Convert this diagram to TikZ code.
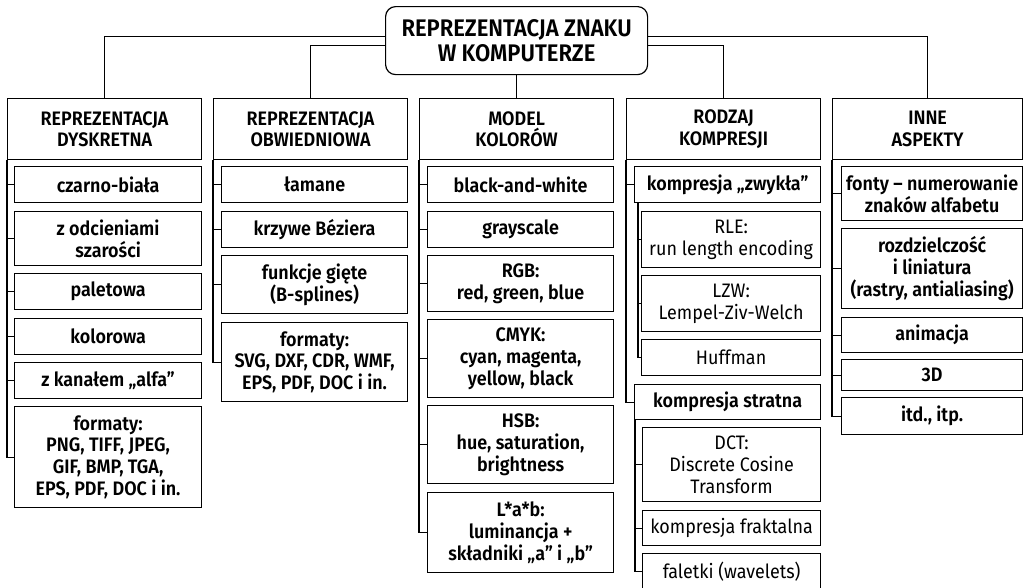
\documentclass[tikz,border=0pt]{standalone}
\usepackage{fontspec}
\setmainfont{Fira Sans}[FakeStretch=0.92, BoldFont={Fira Sans SemiBold}]
\usetikzlibrary{positioning}

\tikzset{
	rootbox/.style={draw, line width=1.2pt, rounded corners=10pt, align=center, inner sep=0pt,
		anchor=north west, minimum width=262pt, minimum height=68pt,
		font=\fontsize{24}{24.5}\selectfont\bfseries},
	headbox/.style={draw, line width=1.2pt, align=center, inner sep=0pt, anchor=north west,
		minimum width=194pt, minimum height=61pt, font=\fontsize{19.5}{21.7}\selectfont\bfseries},
	itembox/.style 2 args={draw, line width=1.2pt, align=center, inner sep=0pt, anchor=north west,
		minimum width=#1, minimum height=#2, font=\fontsize{19.5}{21.7}\selectfont\bfseries},
	subbox/.style 2 args={itembox={#1}{#2}, font=\fontsize{19.5}{21.7}\selectfont},
	link/.style={line width=1.1pt},
}

\begin{document}
\begin{tikzpicture}[x=1pt, y=-1pt]
	\useasboundingbox (0,0) rectangle (1030,587);

	% korzen
	\node[rootbox] (root) at (385,6) {REPREZENTACJA ZNAKU\\W KOMPUTERZE};

	% naglowki kolumn
	\node[headbox] (h1) at (7,98) {REPREZENTACJA\\DYSKRETNA};
	\node[headbox] (h2) at (213,98) {REPREZENTACJA\\OBWIEDNIOWA};
	\node[headbox] (h3) at (419,98) {MODEL\\KOLORÓW};
	\node[headbox] (h4) at (626,98) {RODZAJ\\KOMPRESJI};
	\node[headbox, minimum width=190pt] (h5) at (832,98) {INNE\\ASPEKTY};

	\draw[link] ([yshift=4pt]root.west) -| (h1.north);
	\draw[link] ([yshift=-5pt]root.west) -| (h2.north);
	\draw[link] (root.south) -- (h3.north);
	\draw[link] ([yshift=-5pt]root.east) -| (h4.north);
	\draw[link] ([yshift=4pt]root.east) -| (h5.north);

	% reprezentacja dyskretna
	\node[itembox={187pt}{36pt}] (c1a) at (14,166) {czarno-biała};
	\node[itembox={187pt}{54pt}] (c1b) at (14,211) {z odcieniami\\szarości};
	\node[itembox={187pt}{36pt}] (c1c) at (14,273) {paletowa};
	\node[itembox={187pt}{36pt}] (c1d) at (14,318) {kolorowa};
	\node[itembox={187pt}{36pt}] (c1e) at (14,362) {z kanałem „alfa”};
	\node[itembox={187pt}{101pt}] (c1f) at (14,406) {formaty:\\PNG, TIFF, JPEG,\\GIF, BMP, TGA,\\EPS, PDF, DOC i in.};

	% reprezentacja obwiedniowa
	\node[itembox={186pt}{36pt}] (c2a) at (221,166) {łamane};
	\node[itembox={186pt}{36pt}] (c2b) at (221,211) {krzywe Béziera};
	\node[itembox={186pt}{58pt}] (c2c) at (221,255) {funkcje gięte\\(B-splines)};
	\node[itembox={186pt}{79pt}] (c2d) at (221,322) {formaty:\\SVG, DXF, CDR, WMF,\\EPS, PDF, DOC i in.};

	% model kolorow
	\node[itembox={186pt}{36pt}] (c3a) at (427,166) {black-and-white};
	\node[itembox={186pt}{36pt}] (c3b) at (427,211) {grayscale};
	\node[itembox={186pt}{56pt}] (c3c) at (427,255) {RGB:\\red, green, blue};
	\node[itembox={186pt}{78pt}] (c3d) at (427,319) {CMYK:\\cyan, magenta,\\yellow, black};
	\node[itembox={186pt}{78pt}] (c3e) at (427,405) {HSB:\\hue, saturation,\\brightness};
	\node[itembox={186pt}{80pt}] (c3f) at (427,492) {L*a*b:\\luminancja +\\składniki „a” i „b”};

	% rodzaj kompresji
	\node[itembox={186pt}{36pt}] (c4a) at (634,166) {kompresja „zwykła”};
	\node[subbox={179pt}{56pt}] (c4a1) at (641,211) {RLE:\\run length encoding};
	\node[subbox={179pt}{56pt}] (c4a2) at (641,275) {LZW:\\Lempel-Ziv-Welch};
	\node[subbox={179pt}{36pt}] (c4a3) at (641,339) {Huffman};
	\node[itembox={186pt}{35pt}] (c4b) at (634,384) {kompresja stratna};
	\node[subbox={178pt}{74pt}] (c4b1) at (642,427) {DCT:\\Discrete Cosine\\Transform};
	\node[subbox={178pt}{35pt}] (c4b2) at (642,510) {kompresja fraktalna};
	\node[subbox={178pt}{36pt}] (c4b3) at (642,553) {faletki (wavelets)};

	% inne aspekty
	\node[itembox={181pt}{54pt}] (c5a) at (841,166) {fonty – numerowanie\\znaków alfabetu};
	\node[itembox={181pt}{80pt}] (c5b) at (841,228) {rozdzielczość\\i liniatura\\(rastry, antialiasing)};
	\node[itembox={181pt}{35pt}] (c5c) at (841,317) {animacja};
	\node[itembox={181pt}{31pt}] (c5d) at (841,359) {3D};
	\node[itembox={181pt}{37pt}] (c5e) at (841,397) {itd., itp.};

	% pnie
	\foreach \n in {c1a,c1b,c1c,c1d,c1e,c1f}
		\draw[link] (h1.south west) |- (\n.west);
	\foreach \n in {c2a,c2b,c2c,c2d}
		\draw[link] (h2.south west) |- (\n.west);
	\foreach \n in {c3a,c3b,c3c,c3d,c3e,c3f}
		\draw[link] (h3.south west) |- (\n.west);
	\foreach \n in {c4a,c4b}
		\draw[link] (h4.south west) |- (\n.west);
	\foreach \n in {c4a1,c4a2,c4a3}
		\draw[link] ([xshift=4pt]c4a.south west) |- (\n.west);
	\foreach \n in {c4b1,c4b2,c4b3}
		\draw[link] ([xshift=1pt]c4b.south west) |- (\n.west);
	\foreach \n in {c5a,c5b,c5c,c5d,c5e}
		\draw[link] (h5.south west) |- (\n.west);
\end{tikzpicture}
\end{document}
